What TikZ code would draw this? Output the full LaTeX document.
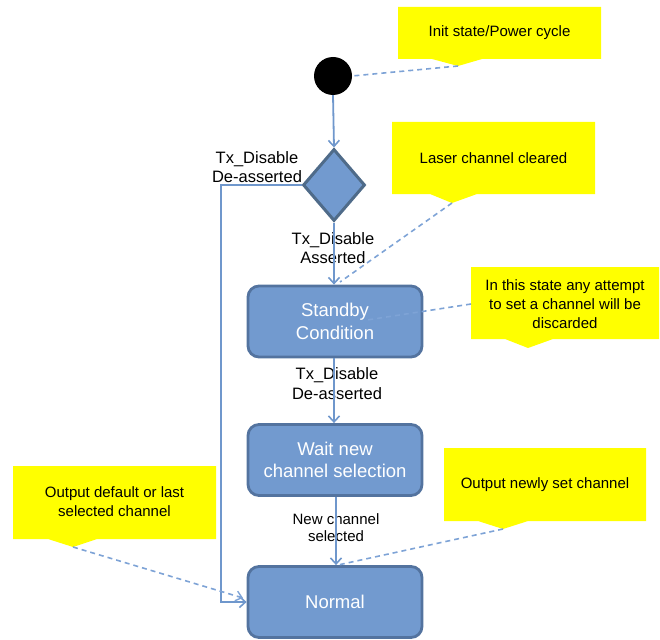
\documentclass[tikz,border=0pt]{standalone}
\usepackage{fontspec}
\setmainfont{Liberation Sans}
\usetikzlibrary{arrows.meta,shapes.geometric}
\definecolor{boxfill}{HTML}{729ACF}
\definecolor{boxdraw}{HTML}{53739F}
\definecolor{diadraw}{HTML}{4F6B89}
\definecolor{linec}{HTML}{6F97CC}
\definecolor{dashc}{HTML}{7EA3D6}
\definecolor{note}{HTML}{FFFF00}
\begin{document}
\begin{tikzpicture}[x=1pt,y=-1pt,
  state/.style={draw=boxdraw, line width=2.8pt, fill=boxfill, rounded corners=11pt,
    minimum width=174pt, minimum height=71pt, text=white, inner sep=0pt,
    font=\fontsize{18.5}{22.5}\selectfont, align=center},
  flow/.style={draw=linec, line width=1.8pt, -{Straight Barb[length=6pt,width=11pt,line width=1.6pt]}},
  anno/.style={draw=dashc, line width=1.6pt, dash pattern=on 5pt off 4pt},
  notebg/.style={fill=note},
  notetext/.style={font=\fontsize{15}{19}\selectfont, align=center, text=black, inner sep=0pt},
  lbl/.style={font=\fontsize{16.5}{19.5}\selectfont, align=center, inner sep=0pt},
  lblsmall/.style={font=\fontsize{15}{17}\selectfont, align=center, inner sep=0pt}
]
\useasboundingbox (0,0) rectangle (660,639);

% callout backgrounds
\fill[notebg] (398,7) -- (601,7) -- (601,59) -- (482,59) -- (458,66) -- (432,59) -- (398,59) -- cycle;
\coordinate (t1) at (458,66);
\fill[notebg] (392,122) -- (595,122) -- (595,194) -- (477,194) -- (452,203) -- (430,194) -- (392,194) -- cycle;
\coordinate (t2) at (452,203);
\fill[notebg] (471,267) -- (659,267) -- (659,339) -- (553,339) -- (528,348) -- (505,339) -- (471,339) -- cycle;
\coordinate (t3) at (471,304);
\fill[notebg] (13,466) -- (216,466) -- (216,539) -- (97,539) -- (73,547) -- (48,539) -- (13,539) -- cycle;
\coordinate (t4) at (73,547);
\fill[notebg] (444,448) -- (646,448) -- (646,521) -- (528,521) -- (503,529) -- (478,521) -- (444,521) -- cycle;
\coordinate (t5) at (503,529);

\node[notetext] (n1) at (499.5,33) {Init state/Power cycle};
\node[notetext] (n2) at (493.5,158) {Laser channel cleared};
\node[notetext] (n3) at (565,304) {In this state any attempt\\to set a channel will be\\discarded};
\node[notetext] (n4) at (114.5,502) {Output default or last\\selected channel};
\node[notetext] (n5) at (545,485) {Output newly set channel};

% main nodes
\node[circle, fill=black, minimum size=38pt, inner sep=0pt] (init) at (333,76) {};
\node[diamond, draw=diadraw, line width=3pt, fill=boxfill, minimum width=62pt, minimum height=72pt, inner sep=0pt] (dec) at (334,185) {};
\node[state] (standby) at (335,321.5) {Standby\\Condition};
\node[state] (wait) at (335,460) {Wait new\\channel selection};
\node[state] (normal) at (335,602) {Normal};

% labels
\node[lbl] (l1) at (257,167) {Tx\_Disable\\De-asserted};
\node[lbl] (l2) at (333,248) {Tx\_Disable\\Asserted};
\node[lbl] (l3) at (337,383.5) {Tx\_Disable\\De-asserted};
\node[lblsmall] (l4) at (336,527.5) {New channel\\selected};

% flows
\draw[flow] (init.south) -- (dec.north);
\draw[flow] (dec.south) -- (standby.north -| dec.south);
\draw[flow] (standby.south -| dec.south) -- (wait.north -| dec.south);
\draw[flow] ([xshift=1pt]wait.south) -- ([xshift=1pt]normal.north);
\draw[flow] (dec.west) -| (221,602) -- (normal.west);

% annotation connectors
\coordinate (e1) at (352,76);
\draw[anno] (t1) -- (e1);
\coordinate (e2) at (340,282);
\draw[anno] (t2) -- (e2);
\coordinate (e3) at (367,320);
\draw[anno] (t3) -- (e3);
\coordinate (e4) at (243,598);
\draw[anno, -{Straight Barb[length=6pt,width=10pt,line width=1.4pt]}] (t4) -- (e4);
\coordinate (e5) at (338,565);
\draw[anno] (t5) -- (e5);
\end{tikzpicture}
\end{document}
